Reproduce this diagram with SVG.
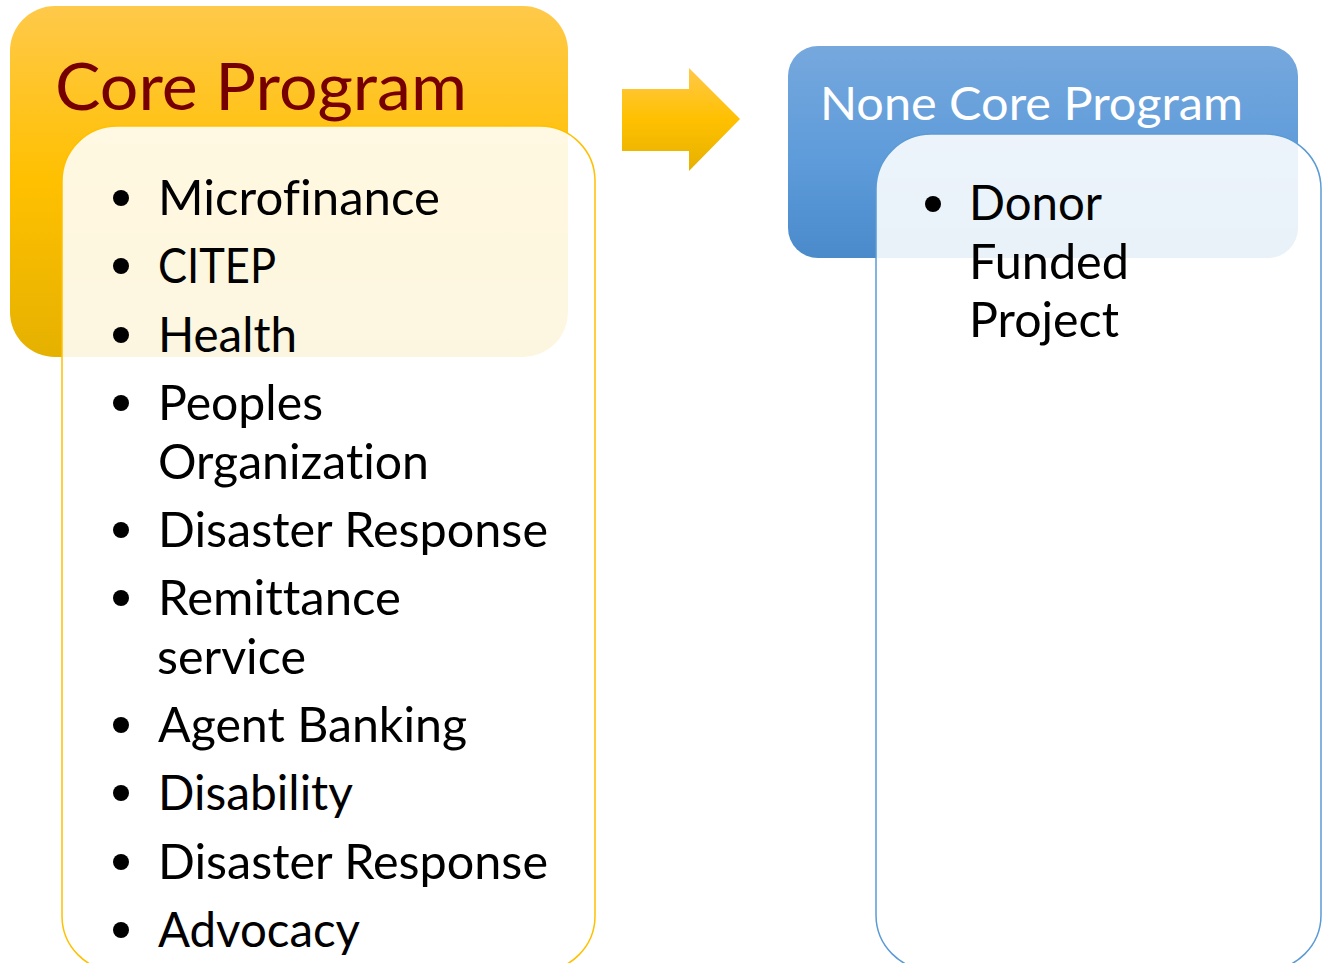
<svg xmlns="http://www.w3.org/2000/svg" width="1328" height="963" viewBox="0 0 1328 963">
<defs>
<linearGradient id="gOrange" x1="0" y1="0" x2="0" y2="1">
<stop offset="0" stop-color="#FFC94A"/>
<stop offset="0.5" stop-color="#FFC000"/>
<stop offset="1" stop-color="#E5B100"/>
</linearGradient>
<linearGradient id="gArrow" x1="0" y1="0" x2="0" y2="1">
<stop offset="0" stop-color="#FFC94A"/>
<stop offset="0.5" stop-color="#FFC000"/>
<stop offset="1" stop-color="#E5B100"/>
</linearGradient>
<linearGradient id="gBlue" x1="0" y1="0" x2="0" y2="1">
<stop offset="0" stop-color="#76A8DD"/>
<stop offset="0.55" stop-color="#5D9BDA"/>
<stop offset="1" stop-color="#4A8ACB"/>
</linearGradient>
</defs>
<style>
.item{font-family:"Lato","Liberation Sans",sans-serif;font-size:48px;fill:#000;font-variant-ligatures:none}
.bul{fill:#000}
.title{font-family:"Lato","Liberation Sans",sans-serif;font-variant-ligatures:none}
</style>
<rect width="1328" height="963" fill="#fff"/>

<g id="core-program">
<rect x="10" y="6" width="558" height="351" rx="45" fill="url(#gOrange)"/>
<text class="title" x="55" y="110" font-size="65" fill="#760000" textLength="412" lengthAdjust="spacingAndGlyphs">Core Program</text>
</g>

<g id="core-list">
<rect x="62" y="126" width="533" height="845" rx="55" fill="#fff" fill-opacity="0.88" stroke="#FFC000" stroke-width="1.5"/>
<circle class="bul" cx="121" cy="198" r="8"/><text class="item" x="158" y="215" textLength="282" lengthAdjust="spacingAndGlyphs">Microfinance</text>
<circle class="bul" cx="121" cy="266" r="8"/><text class="item" x="158" y="283" textLength="118" lengthAdjust="spacingAndGlyphs">CITEP</text>
<circle class="bul" cx="121" cy="335" r="8"/><text class="item" x="158" y="352" textLength="139" lengthAdjust="spacingAndGlyphs">Health</text>
<circle class="bul" cx="121" cy="403" r="8"/><text class="item" x="158" y="420" textLength="165" lengthAdjust="spacingAndGlyphs">Peoples</text>
<text class="item" x="158" y="479" textLength="271" lengthAdjust="spacingAndGlyphs">Organization</text>
<circle class="bul" cx="121" cy="530" r="8"/><text class="item" x="158" y="547" textLength="390" lengthAdjust="spacingAndGlyphs">Disaster Response</text>
<circle class="bul" cx="121" cy="598" r="8"/><text class="item" x="158" y="615" textLength="243" lengthAdjust="spacingAndGlyphs">Remittance</text>
<text class="item" x="157" y="674" textLength="149" lengthAdjust="spacingAndGlyphs">service</text>
<circle class="bul" cx="121" cy="725" r="8"/><text class="item" x="158" y="742" textLength="309" lengthAdjust="spacingAndGlyphs">Agent Banking</text>
<circle class="bul" cx="121" cy="793" r="8"/><text class="item" x="158" y="810" textLength="195" lengthAdjust="spacingAndGlyphs">Disability</text>
<circle class="bul" cx="121" cy="862" r="8"/><text class="item" x="158" y="879" textLength="390" lengthAdjust="spacingAndGlyphs">Disaster Response</text>
<circle class="bul" cx="121" cy="930" r="8"/><text class="item" x="158" y="947" textLength="202" lengthAdjust="spacingAndGlyphs">Advocacy</text>
</g>

<g id="connectors">
<path d="M622,89 H689 V68 L740,119 L689,171 V151 H622 Z" fill="url(#gArrow)"/>
</g>

<g id="none-core-program">
<rect x="788" y="46" width="510" height="212" rx="30" fill="url(#gBlue)"/>
<text class="title" x="820" y="120" font-size="46" fill="#fff" textLength="423" lengthAdjust="spacingAndGlyphs">None Core Program</text>
</g>

<g id="none-core-list">
<rect x="876" y="134" width="445" height="836" rx="55" fill="#fff" fill-opacity="0.88" stroke="#5B9BD5" stroke-width="1.5"/>
<circle class="bul" cx="933" cy="204" r="8"/><text class="item" x="969" y="220" textLength="133" lengthAdjust="spacingAndGlyphs">Donor</text>
<text class="item" x="969" y="279" textLength="160" lengthAdjust="spacingAndGlyphs">Funded</text>
<text class="item" x="969" y="337" textLength="150" lengthAdjust="spacingAndGlyphs">Project</text>
</g>
</svg>
